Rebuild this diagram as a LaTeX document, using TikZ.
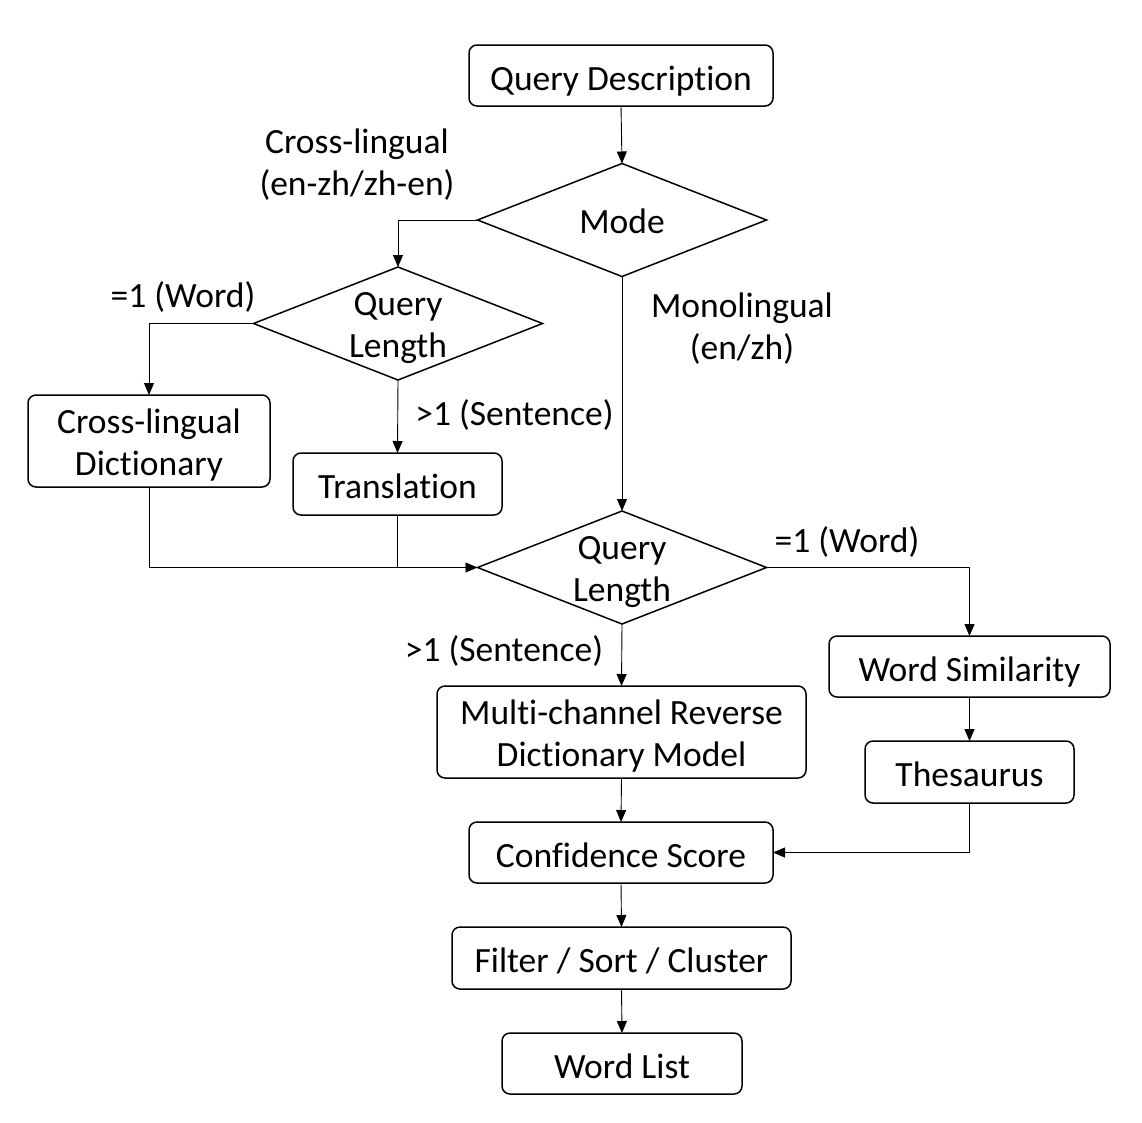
\documentclass[tikz,border=0pt]{standalone}
\usepackage{fontspec}
\setmainfont{Carlito}[Ligatures={NoCommon}]
\usetikzlibrary{shapes.geometric,arrows.meta}
\newcommand{\toplift}{\rule{0pt}{32.5pt}}
\begin{document}
\begin{tikzpicture}[x=1pt,y=-1pt,
  every node/.style={font=\fontsize{35.5}{42}\selectfont},
  boxbase/.style={draw,line width=1.5pt,rounded corners=8pt,inner sep=0pt,outer sep=0pt,align=center},
  box/.style={boxbase,execute at begin node={\rule{0pt}{37pt}},execute at end node={\rule[-7.5pt]{0pt}{7.5pt}}},
  dia/.style={draw,line width=1.5pt,shape=diamond,inner sep=0pt,outer sep=0pt,minimum width=289pt,minimum height=113pt},
  lbl/.style={align=center,inner sep=0pt},
  conn/.style={line width=0.9pt},
  arr/.style={conn,-{Triangle[length=12pt,width=10pt]}}]
\path[use as bounding box] (0,0) rectangle (1142,1122);
% boxes
\node[box,minimum width=304pt,minimum height=61pt] (qd) at (621,75.5) {Query Description};
\node[dia] (mode) at (622,220) {};
\node[lbl] (modet) at (622,221.5) {Mode};
\node[dia] (ql1) at (398,323.5) {};
\node[lbl] (ql1t) at (398,328.5) {Query\\Length};
\node[boxbase,minimum width=242pt,minimum height=92pt] (cld) at (149,441) {\toplift Cross-lingual\\Dictionary};
\node[box,minimum width=209pt,minimum height=62pt] (tr) at (397.5,484) {Translation};
\node[dia] (ql2) at (622,567.5) {};
\node[lbl] (ql2t) at (622,572.5) {Query\\Length};
\node[box,minimum width=281pt,minimum height=61pt] (ws) at (969.5,666.5) {Word Similarity};
\node[box,minimum width=209pt,minimum height=62pt] (th) at (969.5,772) {Thesaurus};
\node[boxbase,minimum width=369pt,minimum height=92pt] (mrd) at (621.5,732) {\toplift Multi-channel Reverse\\Dictionary Model};
\node[box,minimum width=304pt,minimum height=61pt] (cs) at (621,852.5) {Confidence Score};
\node[box,minimum width=339pt,minimum height=62pt] (fsc) at (621.5,958) {Filter / Sort / Cluster};
\node[box,minimum width=240pt,minimum height=61pt] (wl) at (622,1063.5) {Word List};
% labels
\node[lbl] (l1) at (357,164.5) {Cross-lingual\\(en-zh/zh-en)};
\node[lbl] (l2) at (183,297) {=1 (Word)};
\node[lbl] (l3) at (514.5,415) {>1 (Sentence)};
\node[lbl] (l4) at (742,329) {Monolingual\\(en/zh)};
\node[lbl] (l5) at (847,542) {=1 (Word)};
\node[lbl] (l6) at (504,651) {>1 (Sentence)};
% connectors
\draw[arr] (qd.south) -- (mode.north);
\draw[arr] (mode.west) -| (ql1.north);
\draw[arr] (ql1.west) -| (cld.north);
\draw[arr] (ql1.south) -- (tr.north);
\draw[arr] (mode.south) -- (ql2.north);
\draw[arr] (cld.south) |- (ql2.west);
\draw[conn] (tr.south) -- (tr.south |- ql2.west);
\draw[arr] (ql2.east) -| (ws.north);
\draw[arr] (ws.south) -- (th.north);
\draw[arr] (th.south) |- (cs.east);
\draw[arr] (ql2.south) -- (mrd.north);
\draw[arr] (mrd.south) -- (cs.north);
\draw[arr] (cs.south) -- (fsc.north);
\draw[arr] (fsc.south) -- (wl.north);
\end{tikzpicture}
\end{document}
